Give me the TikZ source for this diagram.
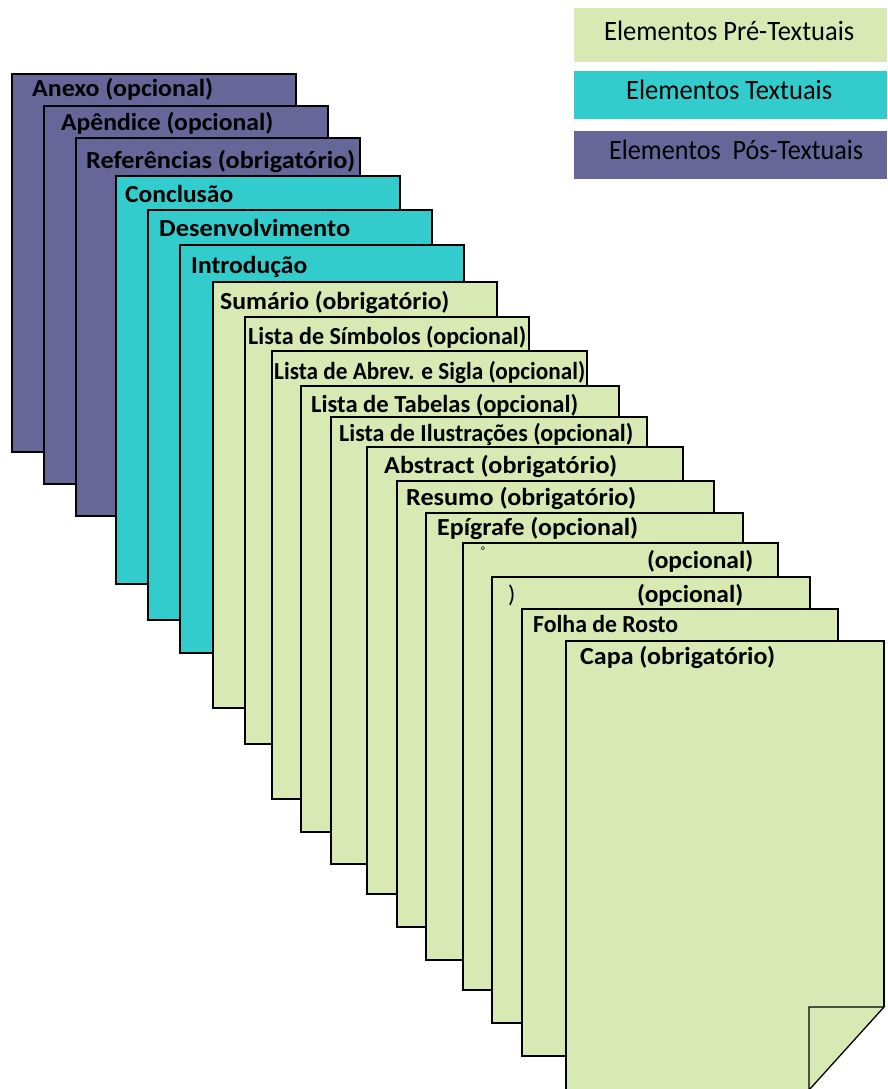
\documentclass[tikz,border=0pt]{standalone}
\usepackage{fontspec}
\setmainfont{Carlito}
\definecolor{pre}{HTML}{D8E9B4}
\definecolor{txt}{HTML}{33CCCC}
\definecolor{pos}{HTML}{666699}
\tikzset{
  sheet/.style={draw=black, line width=1.3pt, anchor=north west, inner sep=0pt, outer sep=0pt},
  lbl/.style={anchor=base west, inner sep=0pt, font=\fontsize{24.5}{28}\selectfont\bfseries},
  legendbox/.style={anchor=north west, inner sep=0pt, minimum width=313pt},
  legendtext/.style={anchor=base west, inner sep=0pt, font=\fontsize{28}{33}\selectfont},
}
\newcommand\fitto[2]{\resizebox{#1pt}{\height}{#2}}
\begin{document}
\begin{tikzpicture}[x=1pt,y=-1pt]
\useasboundingbox (0,0) rectangle (887,1089);
% legend
\node[legendbox,fill=pre,minimum height=54pt] (l1) at (574,8) {};
\node[legendtext] (lt1) at (604,41) {\fitto{250}{Elementos Pré-Textuais}};
\node[legendbox,fill=txt,minimum height=48pt] (l2) at (574,71) {};
\node[legendtext] (lt2) at (626,100) {\fitto{206}{Elementos Textuais}};
\node[legendbox,fill=pos,minimum height=48pt] (l3) at (574,131) {};
\node[legendtext] (lt3) at (609,160) {\fitto{254}{Elementos\ \ Pós-Textuais}};
% pages
\node[sheet,fill=pos,minimum width=284pt,minimum height=378pt] (p1) at (12,74) {};
\node[lbl] (t1) at (32,96.5) {\fitto{181}{Anexo (opcional)}};
\node[sheet,fill=pos,minimum width=284pt,minimum height=378pt] (p2) at (44,106) {};
\node[lbl] (t2) at (61,131) {\fitto{212}{Apêndice (opcional)}};
\node[sheet,fill=pos,minimum width=284pt,minimum height=378pt] (p3) at (76,138) {};
\node[lbl] (t3) at (86,168) {\fitto{269}{Referências (obrigatório)}};
\node[sheet,fill=txt,minimum width=284pt,minimum height=408pt] (p4) at (116,176) {};
\node[lbl] (t4) at (125,202.5) {\fitto{108}{Conclusão}};
\node[sheet,fill=txt,minimum width=284pt,minimum height=410pt] (p5) at (148,210) {};
\node[lbl] (t5) at (159,236) {\fitto{191}{Desenvolvimento}};
\node[sheet,fill=txt,minimum width=284pt,minimum height=408pt] (p6) at (180,245) {};
\node[lbl] (t6) at (191,273) {\fitto{116}{Introdução}};
\node[sheet,fill=pre,minimum width=284pt,minimum height=426pt] (p7) at (213,282) {};
\node[lbl] (t7) at (220,309) {\fitto{229}{Sumário (obrigatório)}};
\node[sheet,fill=pre,minimum width=284pt,minimum height=427pt] (p8) at (245,317) {};
\node[lbl] (t8) at (248,344) {\fitto{278}{Lista de Símbolos (opcional)}};
\node[sheet,fill=pre,minimum width=315pt,minimum height=448pt] (p9) at (272,351) {};
\node[lbl] (t9) at (274,379) {\fitto{311}{Lista de Abrev. e Sigla (opcional)}};
\node[sheet,fill=pre,minimum width=318pt,minimum height=446pt] (p10) at (301,386) {};
\node[lbl] (t10) at (311,412) {\fitto{267}{Lista de Tabelas (opcional)}};
\node[sheet,fill=pre,minimum width=316pt,minimum height=447pt] (p11) at (331,417) {};
\node[lbl] (t11) at (339,441) {\fitto{294}{Lista de Ilustrações (opcional)}};
\node[sheet,fill=pre,minimum width=316pt,minimum height=447pt] (p12) at (367,447) {};
\node[lbl] (t12) at (384,473) {\fitto{233}{Abstract (obrigatório)}};
\node[sheet,fill=pre,minimum width=317pt,minimum height=446pt] (p13) at (397,481) {};
\node[lbl] (t13) at (406,505.5) {\fitto{230}{Resumo (obrigatório)}};
\node[sheet,fill=pre,minimum width=317pt,minimum height=447pt] (p14) at (426,513) {};
\node[lbl] (t14) at (437,535.5) {\fitto{201}{Epígrafe (opcional)}};
\node[sheet,fill=pre,minimum width=315pt,minimum height=447pt] (p15) at (463,543) {};
\node[inner sep=0pt,font=\fontsize{11}{12}\selectfont] (t15a) at (483,551) {°};
\node[lbl] (t15) at (647,568) {\fitto{106}{(opcional)}};
\node[sheet,fill=pre,minimum width=318pt,minimum height=446pt] (p16) at (492,577) {};
\node[anchor=base west,inner sep=0pt,font=\fontsize{24}{28}\selectfont] (t16a) at (508,602) {)};
\node[lbl] (t16) at (637,602) {\fitto{106}{(opcional)}};
\node[sheet,fill=pre,minimum width=316pt,minimum height=447pt] (p17) at (522,609) {};
\node[lbl] (t17) at (533,632) {\fitto{145}{Folha de Rosto}};
% cover page with folded corner
\coordinate (c1) at (566,641);
\coordinate (c2) at (884,641);
\coordinate (c3) at (884,1007);
\coordinate (c4) at (809,1090);
\coordinate (c5) at (566,1095);
\coordinate (f1) at (809,1007);
\fill[pre] (c5) -- (c1) -- (c2) -- (c3) -- (c4) -- (809,1095) -- cycle;
\draw[line width=1.3pt, line join=miter] (c5) -- (c1) -- (c2) -- (c3);
\filldraw[fill=pre, draw=black, line width=1.3pt, line join=miter] (f1) -- (c3) -- (c4) -- (809,1095) -- cycle;
\node[lbl] (t18) at (580,664) {\fitto{195}{Capa (obrigatório)}};
\end{tikzpicture}
\end{document}
